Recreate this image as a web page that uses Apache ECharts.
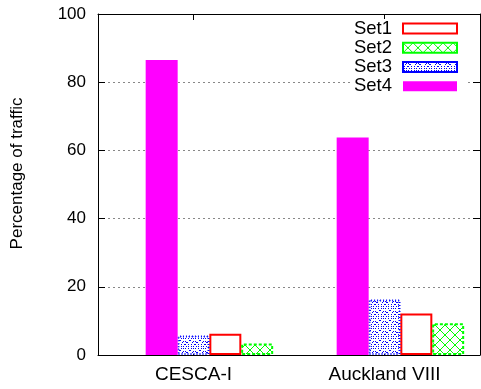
<!DOCTYPE html>
<html>
<head>
<meta charset="utf-8">
<script src="https://cdn.jsdelivr.net/npm/echarts@6/dist/echarts.min.js"></script>
<style>
  html, body { margin: 0; padding: 0; background: #fff; }
  #chart { width: 481px; height: 389px; }
</style>
</head>
<body>
<div id="chart"></div>
<script>
// Traffic share per trace, four sets
const categories = ['CESCA-I', 'Auckland VIII'];
const set1 = [6.2, 12.2];
const set2 = [3.4, 9.3];
const set3 = [5.7, 16.3];
const set4 = [86.5, 63.8];
const yTicks = [0, 20, 40, 60, 80, 100];

const FONT = '"Liberation Sans", Arial, Helvetica, sans-serif';

// Tiled fill patterns for the hatched bars
function pattern(draw, size) {
  const c = document.createElement('canvas');
  c.width = size; c.height = size;
  const g = c.getContext('2d');
  g.fillStyle = '#fff';
  g.fillRect(0, 0, size, size);
  draw(g, size);
  return { image: c, repeat: 'repeat' };
}
const crossHatch = pattern((g, s) => {
  g.strokeStyle = '#00ff00';
  g.lineWidth = 1;
  g.beginPath();
  g.moveTo(0, 0); g.lineTo(s, s);
  g.moveTo(s, 0); g.lineTo(0, s);
  g.stroke();
}, 10);
const dotHatch = pattern((g, s) => {
  g.fillStyle = '#0000ff';
  // dotted diagonals
  for (let i = 0; i < s; i++) {
    if (i % 2 === 0) {
      g.fillRect(i, i, 1, 1);
      g.fillRect(s - 1 - i, i, 1, 1);
    }
  }
  // small dotted ring between the diagonals
  const c = s / 2;
  [[c - 2, 1], [c, 1], [c + 1, 2], [c - 3, 2],
   [c - 2, s - 2], [c, s - 2], [1, c - 1], [1, c + 1], [s - 2, c - 1], [s - 2, c + 1]]
    .forEach(([x, y]) => g.fillRect(x, y, 1, 1));
}, 10);

// position of each set inside a cluster (in category units)
const clusterPos = { Set1: 1 / 6, Set2: 1 / 3, Set3: 0, Set4: -1 / 6 };

function toPoints(name, values) {
  return values.map((v, i) => [i + clusterPos[name], v]);
}

const sets = [
  { name: 'Set1', values: set1, itemStyle: { color: '#fff', borderColor: '#ff0000', borderWidth: 2 } },
  { name: 'Set2', values: set2, itemStyle: { color: crossHatch, borderColor: '#00ff00', borderWidth: 2, borderType: [3, 2] } },
  { name: 'Set3', values: set3, itemStyle: { color: dotHatch, borderColor: '#0000ff', borderWidth: 2, borderType: [1, 2] } },
  { name: 'Set4', values: set4, itemStyle: { color: '#ff00ff' } }
];

const chart = echarts.init(document.getElementById('chart'), null, { renderer: 'canvas' });

const tickPos = categories.map((_, i) => i);
const yMin = yTicks[0], yMax = yTicks[yTicks.length - 1], yStep = yTicks[1] - yTicks[0];

chart.setOption({
  animation: false,
  backgroundColor: '#fff',
  grid: { left: 98, right: 1, top: 14, bottom: 34, containLabel: false },
  legend: {
    data: sets.map(s => s.name),
    orient: 'vertical',
    align: 'right',
    right: 13,
    top: 19,
    padding: [0, 10, 0, 3],
    backgroundColor: '#fff',
    itemWidth: 54,
    itemHeight: 10,
    itemGap: 0,
    icon: 'rect',
    textStyle: { fontFamily: FONT, fontSize: 18.5, color: '#000', lineHeight: 19.2, padding: [0, 6, 0, 0] }
  },
  xAxis: [
    {
      type: 'value', min: -0.5, max: 1.5,
      axisLine: { show: true, onZero: false, lineStyle: { color: '#000', width: 1 } },
      axisTick: { show: true, inside: true, length: 6, customValues: tickPos, lineStyle: { color: '#000' } },
      axisLabel: {
        customValues: tickPos,
        formatter: v => categories[Math.round(v)],
        fontFamily: FONT, fontSize: 19, color: '#000', margin: 10
      },
      splitLine: { show: false }
    },
    {
      type: 'value', min: -0.5, max: 1.5, position: 'top',
      axisLine: { show: true, onZero: false, lineStyle: { color: '#000', width: 1 } },
      axisTick: { show: true, inside: true, length: 6, customValues: tickPos, lineStyle: { color: '#000' } },
      axisLabel: { show: false },
      splitLine: { show: false }
    }
  ],
  yAxis: [
    {
      type: 'value', min: yMin, max: yMax, interval: yStep, position: 'left',
      name: 'Percentage of traffic',
      nameLocation: 'middle',
      nameGap: 72,
      nameRotate: 90,
      nameTextStyle: { fontFamily: FONT, fontSize: 17, color: '#000', padding: [0, 0, 0, 22] },
      axisLine: { show: true, onZero: false, lineStyle: { color: '#000', width: 1 } },
      axisTick: { show: true, inside: true, length: 7, lineStyle: { color: '#000' } },
      axisLabel: { fontFamily: FONT, fontSize: 17, color: '#000', margin: 12 },
      splitLine: { show: true, lineStyle: { color: '#888', width: 1, type: [2, 3] } }
    },
    {
      type: 'value', min: yMin, max: yMax, interval: yStep, position: 'right',
      axisLine: { show: true, onZero: false, lineStyle: { color: '#000', width: 1 } },
      axisTick: { show: true, inside: true, length: 7, lineStyle: { color: '#000' } },
      axisLabel: { show: false },
      splitLine: { show: false }
    }
  ],
  series: sets.map(s => ({
    name: s.name,
    type: 'bar',
    xAxisIndex: 0,
    yAxisIndex: 0,
    barWidth: 32,
    barGap: '-100%',
    itemStyle: s.itemStyle,
    emphasis: { disabled: true },
    data: toPoints(s.name, s.values)
  }))
});
</script>
</body>
</html>
